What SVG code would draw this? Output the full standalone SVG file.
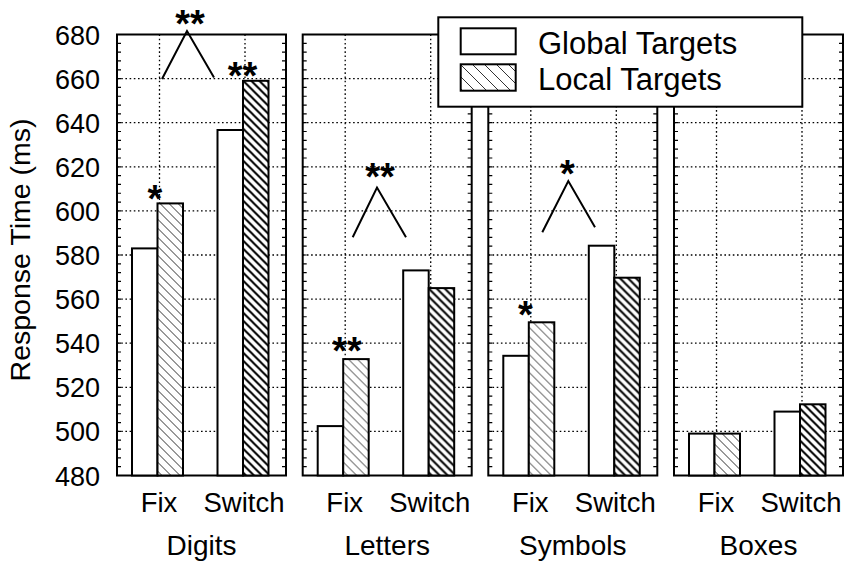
<svg xmlns="http://www.w3.org/2000/svg" xmlns:xlink="http://www.w3.org/1999/xlink" width="844" height="563" viewBox="0 0 844 563">
<style>
text{font-family:"Liberation Sans",Arial,sans-serif;fill:#000}
.frame{fill:none;stroke:#000;stroke-width:2}
.tick{stroke:#000;stroke-width:4;stroke-dasharray:1.2 7.62}
.grid{stroke:#000;stroke-width:1.3;stroke-dasharray:1.6 2.6;fill:none}
.bar{stroke:#000;stroke-width:2}
.g{fill:#fff}
.lf{fill:url(#hatchThin)}
.ls{fill:url(#hatchThick)}
.ytl{font-size:27px;text-anchor:end}
.xl{font-size:27.5px;text-anchor:middle}
.cat{font-size:28px;text-anchor:middle}
.ast{font-size:38px;font-weight:bold;text-anchor:middle}
.caret{fill:none;stroke:#000;stroke-width:2}
.leg{font-size:31px}
</style>
<defs>
<pattern id="hatchThin" patternUnits="userSpaceOnUse" width="9" height="9">
<rect width="9" height="9" fill="#fff"/>
<path d="M0,0L9,9M-1,8L1,10M8,-1L10,1" stroke="#333" stroke-width="1"/>
</pattern>
<pattern id="hatchThick" patternUnits="userSpaceOnUse" width="8" height="8">
<rect width="8" height="8" fill="#fff"/>
<path d="M0,0L8,8M-1,7L1,9M7,-1L9,1" stroke="#000" stroke-width="2"/>
</pattern>
<pattern id="hatchLegend" patternUnits="userSpaceOnUse" width="12" height="12">
<rect width="12" height="12" fill="#fff"/>
<path d="M0,0L12,12M-1,11L1,13M11,-1L13,1" stroke="#333" stroke-width="1"/>
</pattern>
<g id="frame">
<rect x="0" y="0" width="169" height="441" fill="#fff"/>
<path class="grid" d="M0,44.1H169M0,88.2H169M0,132.3H169M0,176.4H169M0,220.5H169M0,264.6H169M0,308.7H169M0,352.8H169M0,396.9H169M42.5,0V441M128,0V441"/>
<line class="tick" x1="2" y1="441.6" x2="2" y2="0"/>
<line class="tick" x1="167" y1="441.6" x2="167" y2="0"/>
<rect class="frame" x="0" y="0" width="169" height="441"/>
</g>
</defs>

<g id="y-axis">
<text class="ytl" x="100" y="44.5">680</text>
<text class="ytl" x="100" y="88.6">660</text>
<text class="ytl" x="100" y="132.7">640</text>
<text class="ytl" x="100" y="176.8">620</text>
<text class="ytl" x="100" y="220.9">600</text>
<text class="ytl" x="100" y="265">580</text>
<text class="ytl" x="100" y="309.1">560</text>
<text class="ytl" x="100" y="353.2">540</text>
<text class="ytl" x="100" y="397.3">520</text>
<text class="ytl" x="100" y="441.4">500</text>
<text class="ytl" x="100" y="485.5">480</text>
<text font-size="28.5" text-anchor="middle" transform="translate(29.5,250) rotate(-90)">Response Time (ms)</text>
</g>

<g id="panel-digits" transform="translate(117,34.5)">
<use xlink:href="#frame"/>
<rect class="bar g" x="15" y="213.9" width="25.5" height="227.1"/>
<rect class="bar lf" x="40.5" y="168.9" width="25.5" height="272.1"/>
<rect class="bar g" x="100.5" y="95.5" width="25.5" height="345.5"/>
<rect class="bar ls" x="126" y="46.3" width="25.5" height="394.7"/>
<text class="xl" x="42" y="477">Fix</text>
<text class="xl" x="127" y="477">Switch</text>
<text class="cat" x="84.5" y="520.5">Digits</text>
</g>

<g id="panel-letters" transform="translate(302.7,34.5)">
<use xlink:href="#frame"/>
<rect class="bar g" x="15" y="391.6" width="25.5" height="49.4"/>
<rect class="bar lf" x="40.5" y="324.6" width="25.5" height="116.4"/>
<rect class="bar g" x="100.5" y="235.9" width="25.5" height="205.1"/>
<rect class="bar ls" x="126" y="253.6" width="25.5" height="187.4"/>
<text class="xl" x="42" y="477">Fix</text>
<text class="xl" x="127" y="477">Switch</text>
<text class="cat" x="84.5" y="520.5">Letters</text>
</g>

<g id="panel-symbols" transform="translate(488.3,34.5)">
<use xlink:href="#frame"/>
<rect class="bar g" x="15" y="321.3" width="25.5" height="119.7"/>
<rect class="bar lf" x="40.5" y="287.8" width="25.5" height="153.2"/>
<rect class="bar g" x="100.5" y="211.2" width="25.5" height="229.8"/>
<rect class="bar ls" x="126" y="243.2" width="25.5" height="197.8"/>
<text class="xl" x="42" y="477">Fix</text>
<text class="xl" x="127" y="477">Switch</text>
<text class="cat" x="84.5" y="520.5">Symbols</text>
</g>

<g id="panel-boxes" transform="translate(674,34.5)">
<use xlink:href="#frame"/>
<rect class="bar g" x="15" y="399.1" width="25.5" height="41.9"/>
<rect class="bar lf" x="40.5" y="399.1" width="25.5" height="41.9"/>
<rect class="bar g" x="100.5" y="377.1" width="25.5" height="63.9"/>
<rect class="bar ls" x="126" y="369.8" width="25.5" height="71.2"/>
<text class="xl" x="42" y="477">Fix</text>
<text class="xl" x="127" y="477">Switch</text>
<text class="cat" x="84.5" y="520.5">Boxes</text>
</g>

<g id="significance">
<polyline class="caret" points="162,79 187,31 214,77.5"/>
<text class="ast" x="190" y="37">**</text>
<text class="ast" x="242.5" y="89">**</text>
<text class="ast" x="155" y="212">*</text>
<polyline class="caret" points="352.7,237.3 377,187.5 406,237.3"/>
<text class="ast" x="380" y="190">**</text>
<text class="ast" x="347" y="364">**</text>
<polyline class="caret" points="542.3,232.3 568.3,181 595,227.3"/>
<text class="ast" x="567.3" y="187">*</text>
<text class="ast" x="525.3" y="328">*</text>
</g>

<g id="legend">
<rect x="438.3" y="17.3" width="364" height="89.4" fill="#fff" stroke="#000" stroke-width="2"/>
<rect x="460.7" y="28.3" width="55" height="26" fill="#fff" stroke="#000" stroke-width="2"/>
<rect x="460.7" y="64.3" width="55" height="26.4" fill="url(#hatchLegend)" stroke="#000" stroke-width="2"/>
<text class="leg" x="538" y="53.5">Global Targets</text>
<text class="leg" x="538" y="90">Local Targets</text>
</g>
</svg>
